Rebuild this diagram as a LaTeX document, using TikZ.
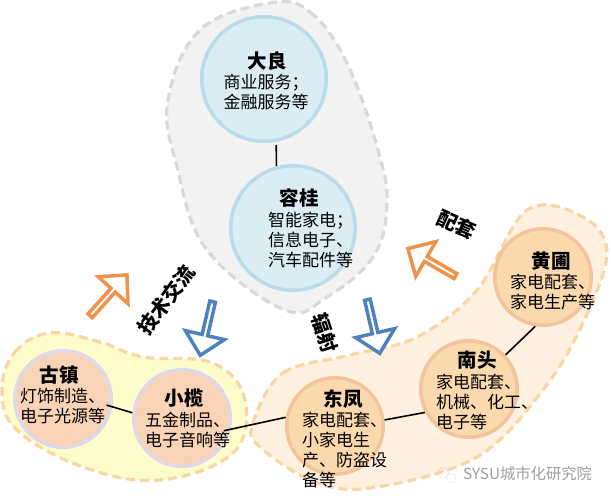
\documentclass[tikz,border=0pt]{standalone}
\usepackage{fontspec}
\setmainfont{Noto Sans CJK SC}
\usetikzlibrary{shapes.arrows}
\definecolor{blueFill}{HTML}{DAEDF4}
\definecolor{blueLine}{HTML}{BADCE8}
\definecolor{peachFill}{HTML}{F9D3B5}
\definecolor{lilacLine}{HTML}{DDD9E8}
\definecolor{sandFill}{HTML}{FBD9AE}
\definecolor{sandLine}{HTML}{F4C39A}
\definecolor{dashTan}{HTML}{F8D6A6}
\definecolor{arrowOrange}{HTML}{F0924A}
\definecolor{arrowBlue}{HTML}{4F81BD}
\tikzset{
  town/.style={circle,line width=3.5pt,inner sep=0pt,minimum size=96.5pt},
  bigtown/.style={town,minimum size=124.5pt,draw=blueLine,fill=blueFill},
  westtown/.style={town,draw=lilacLine,fill=peachFill},
  easttown/.style={town,draw=sandLine,fill=sandFill},
  region/.style={line width=3.2pt,dash pattern=on 9pt off 5pt},
  townname/.style={font=\fontsize{19.5}{20}\selectfont\bfseries,inner sep=0pt},
  towntext/.style={font=\fontsize{17}{20}\selectfont,inner sep=0pt,align=left,anchor=west},
  flowname/.style={font=\fontsize{20}{20}\selectfont\bfseries,inner sep=0pt},
  flow/.style={single arrow,anchor=tail,line width=3.5pt,fill=white,inner sep=0pt,
    single arrow head extend=10.5pt,single arrow tip angle=88,minimum width=40pt,minimum height=55pt},
  link/.style={line width=1.6pt,black}
}
\begin{document}
\begin{tikzpicture}[x=1pt,y=-1pt]
\useasboundingbox (0,0) rectangle (611,501);

\draw[region,draw=black!15,fill=black!5] plot[smooth cycle,tension=0.65] coordinates
  {(270,3) (310,12) (347,63) (378,150) (387,205) (373,257) (327,297) (285,310) (207,250) (177,167) (168,100) (200,30)};
\draw[region,draw=dashTan,fill=yellow!20] plot[smooth cycle,tension=0.65] coordinates
  {(2,390) (15,352) (50,333) (100,342) (143,357) (213,363) (245,400) (233,453) (160,480) (83,467) (17,430)};
\draw[region,draw=dashTan,fill=orange!12] plot[smooth cycle,tension=0.6] coordinates
  {(253,423) (283,373) (350,355) (417,337) (477,290) (527,210) (583,217) (607,253) (583,323) (543,390) (477,457) (377,487) (317,483) (260,447)};

\node[bigtown] (DL) at (264,79) {};
\node[bigtown] (RG) at (293,228) {};
\node[westtown] (GZ) at (63,399) {};
\node[westtown] (XL) at (182,418) {};
\node[easttown] (DF) at (335,426) {};
\node[easttown] (NT) at (469,389) {};
\node[easttown] (HP) at (543,277) {};

\draw[link,shorten <=3pt] (DL.-79) -- (RG.105);
\draw[link,shorten <=-6pt] (GZ.-9) -- (XL.174);
\draw[link,shorten <=-7pt] (XL.-13) -- (DF.170);
\draw[link] (DF.7) -- (NT.208);
\draw[link] (NT.43) -- (HP.261);

\node[townname] (DLname) at (267,61) {大良};
\node[towntext,align=center,anchor=center] (DLtext) at (266,92) {商业服务；\\金融服务等};
\node[townname] (RGname) at (299,198) {容桂};
\node[towntext] (RGtext) at (268,240) {智能家电；\\信息电子、\\汽车配件等};
\node[townname] (GZname) at (59,375) {古镇};
\node[towntext] (GZtext) at (20,406) {灯饰制造、\\电子光源等};
\node[townname] (XLname) at (184,398) {小榄};
\node[towntext] (XLtext) at (145,430) {五金制品、\\电子音响等};
\node[townname] (DFname) at (343,399) {东凤};
\node[towntext] (DFtext) at (302,450) {家电配套、\\小家电生\\产、防盗设\\备等};
\node[townname] (NTname) at (477,360) {南头};
\node[towntext] (NTtext) at (436,402) {家电配套、\\机械、化工、\\电子等};
\node[townname] (HPname) at (551,261) {黄圃};
\node[towntext] (HPtext) at (510,292) {家电配套、\\家电生产等};

\node[flow,draw=arrowOrange,rotate=48] (flowA) at (89,317) {};
\node[flow,draw=arrowBlue,rotate=257] (flowB) at (213,300) {};
\node[flow,draw=arrowBlue,rotate=283] (flowC) at (367,298) {};
\node[flow,draw=arrowOrange,rotate=150] (flowD) at (457,277) {};

\node[flowname,rotate=54] (flowAname) at (166,300) {技术交流};
\node[flowname,rotate=-72] (flowCname) at (325,333) {辐射};
\node[flowname,rotate=-24] (flowDname) at (457,225) {配套};

\node[draw=black!35,densely dotted,circle,inner sep=0pt,minimum size=11pt] (iconA) at (443,473) {};
\node[draw=black!35,densely dotted,circle,inner sep=0pt,minimum size=9pt] (iconB) at (451,478) {};
\node[font=\fontsize{15.3}{15.3}\selectfont,text=black!38,inner sep=0pt,anchor=west] (mark) at (463,474) {SYSU城市化研究院};
\end{tikzpicture}
\end{document}
